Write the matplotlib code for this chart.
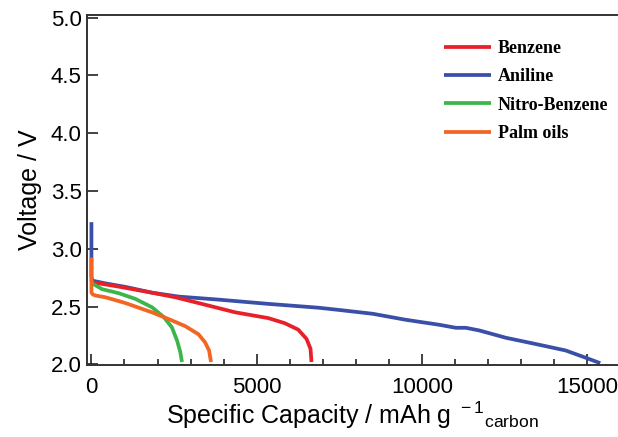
import numpy as np
import matplotlib.pyplot as plt

# ------------------------------
# Data (capacity in mAh/g, voltage in V)
# ------------------------------
benzene_cap = [0, 24, 830, 1830, 2540, 3340, 4350, 5350, 5850, 6260, 6510, 6630, 6660]
benzene_v = [2.74, 2.71, 2.672, 2.62, 2.58, 2.523, 2.45, 2.40, 2.356, 2.30, 2.22, 2.135, 2.02]

aniline_cap = [0, 0, 24, 425, 1030, 1830, 2640, 3840, 5350, 6860, 7510, 8520, 9520,
               10530, 11030, 11330, 11740, 12540, 13540, 14350, 14950, 15400]
aniline_v = [3.23, 2.76, 2.724, 2.70, 2.67, 2.62, 2.586, 2.56, 2.523, 2.49, 2.47, 2.437, 2.385,
             2.342, 2.316, 2.316, 2.293, 2.23, 2.17, 2.12, 2.058, 2.01]

nitro_cap = [0, 24, 325, 830, 1330, 1830, 2185, 2435, 2590, 2690, 2740]
nitro_v = [2.73, 2.70, 2.65, 2.615, 2.566, 2.494, 2.41, 2.32, 2.207, 2.106, 2.02]

palm_cap = [0, 0, 40, 125, 425, 1030, 1830, 2435, 2840, 3240, 3440, 3560, 3620]
palm_v = [2.925, 2.62, 2.605, 2.595, 2.58, 2.53, 2.45, 2.38, 2.33, 2.26, 2.19, 2.12, 2.02]

labels = ['Benzene', 'Aniline', 'Nitro-Benzene', 'Palm oils']
colors = ['#e8202a', '#3a4fa8', '#3cb54a', '#f26522']

plt.rcParams['font.family'] = 'Liberation Sans'
plt.rcParams['mathtext.default'] = 'regular'

fig = plt.figure(figsize=(6.18, 4.37), dpi=100)
ax = fig.add_axes([0.141, 0.165, 0.857, 0.800])

series = [(benzene_cap, benzene_v), (aniline_cap, aniline_v),
          (nitro_cap, nitro_v), (palm_cap, palm_v)]
# aniline drawn first so the other curves sit on top of it
for i in [1, 0, 2, 3]:
    cap, v = series[i]
    ax.plot(cap, v, color=colors[i], lw=2.7, label=labels[i],
            solid_capstyle='butt', solid_joinstyle='round')

ax.set_xlim(-130, 15900)
ax.set_ylim(1.995, 5.02)
ax.set_xticks([0, 5000, 10000, 15000])
ax.set_xticks(np.arange(0, 16000, 1000), minor=True)
ax.set_yticks([2.0, 2.5, 3.0, 3.5, 4.0, 4.5, 5.0])
ax.set_yticklabels(['2.0', '2.5', '3.0', '3.5', '4.0', '4.5', '5.0'])

ax.tick_params(axis='both', which='major', direction='in', length=8, width=1.2,
               labelsize=16, color='#222222')
ax.tick_params(axis='x', which='minor', direction='in', length=4.5, width=1.2, color='#222222')
ax.tick_params(axis='x', which='major', pad=9)
ax.tick_params(axis='y', which='major', pad=4)

ax.spines['right'].set_visible(False)
for s in ['left', 'top', 'bottom']:
    ax.spines[s].set_linewidth(1.4)
    ax.spines[s].set_color('#333333')

ax.set_xlabel(r'Specific Capacity / mAh g$^{\ -1}$$_{carbon}$', fontsize=18, labelpad=1)
ax.set_ylabel('Voltage / V', fontsize=18, labelpad=6)

handles, lbls = ax.get_legend_handles_labels()
order = [lbls.index(l) for l in labels]
ax.legend([handles[k] for k in order], labels, loc='upper right', frameon=False,
          prop={'family': 'Liberation Serif', 'weight': 'bold', 'size': 13},
          handlelength=2.6, handletextpad=0.4, labelspacing=0.62,
          bbox_to_anchor=(1.015, 0.975))

plt.savefig('out.png', dpi=100)
